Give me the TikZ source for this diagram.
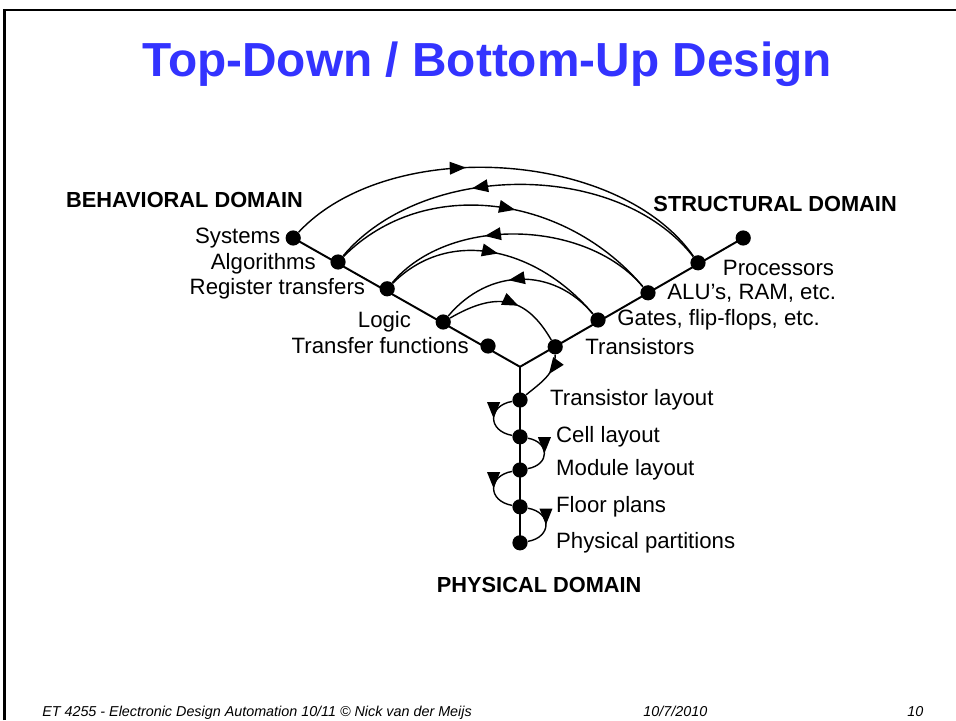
\documentclass[tikz,border=0pt]{standalone}
\usepackage{fontspec}
\setmainfont{Liberation Sans}
\usetikzlibrary{arrows.meta,decorations.markings,positioning}
\definecolor{titleblue}{RGB}{51,51,255}

\tikzset{
  dot/.style={circle,fill=black,inner sep=0pt,minimum size=0.38cm},
  lbl/.style={inner sep=0pt,font=\fontsize{15.8}{18}\selectfont},
  domainlbl/.style={inner sep=0pt,font=\fontsize{15.5}{18}\selectfont\bfseries},
  foot/.style={inner sep=0pt,anchor=base west,font=\fontsize{10.2}{12}\selectfont\itshape},
  flow/.style={line width=1pt,postaction={decorate},
    decoration={markings,mark=at position #1 with {\arrow{Triangle[length=11.5pt,width=9pt]}}}},
  flow/.default=0.5
}

\begin{document}
\begin{tikzpicture}
  \useasboundingbox (0,0) rectangle (23.9,18);
  \draw[line width=2pt] (0.12,0) -- (0.12,17.75) -- (23.9,17.75);    % slide frame

  \node[anchor=base,inner sep=0pt,text=titleblue,
        font=\fontsize{34}{40}\selectfont\bfseries] (title) at (12.18,16.08)
        {Top-Down / Bottom-Up Design};

  \coordinate (vtx) at (13.0,8.83);                    % where the three axes meet

  \node[dot] (sys)   at (7.33,12.05) {};               % behavioral axis
  \node[dot] (alg)   at (8.45,11.45) {};
  \node[dot] (rt)    at (9.68,10.78) {};
  \node[dot] (logic) at (11.08,9.95) {};
  \node[dot] (tf)    at (12.2,9.35) {};

  \node[dot] (trans) at (13.88,9.33) {};               % structural axis
  \node[dot] (gates) at (14.95,10.0) {};
  \node[dot] (alu)   at (16.2,10.68) {};
  \node[dot] (proc)  at (17.45,11.43) {};
  \node[dot] (top)   at (18.58,12.05) {};

  \node[dot] (tl)    at (13.0,8.0) {};                 % physical axis
  \node[dot] (cl)    at (13.0,7.08) {};
  \node[dot] (ml)    at (13.0,6.25) {};
  \node[dot] (fp)    at (13.0,5.33) {};
  \node[dot] (pp)    at (13.0,4.43) {};

  \draw[line width=1.4pt] (sys.center) -- (vtx) -- (top.center);
  \draw[line width=1.4pt] (vtx) -- (pp.center);

  % labels
  \node[lbl, left=0.12 of sys] (sysT) {Systems};
  \node[lbl, left=0.35 of alg, yshift=-0.05cm] (algT) {Algorithms};
  \node[lbl, left=0.35 of rt] (rtT) {Register transfers};
  \node[lbl, left=0.6 of logic] (logicT) {Logic};
  \node[lbl, left=0.28 of tf] (tfT) {Transfer functions};

  \node[lbl, right=0.55 of trans] (transT) {Transistors};
  \node[lbl, right=0.28 of gates] (gatesT) {Gates, flip-flops, etc.};
  \node[lbl, right=0.28 of alu] (aluT) {ALU's, RAM, etc.};
  \node[lbl, right=0.42 of proc, yshift=-0.12cm] (procT) {Processors};

  \node[lbl, right=0.55 of tl] (tlT) {Transistor layout};
  \node[lbl, right=0.7 of cl] (clT) {Cell layout};
  \node[lbl, right=0.7 of ml] (mlT) {Module layout};
  \node[lbl, right=0.7 of fp] (fpT) {Floor plans};
  \node[lbl, right=0.7 of pp] (ppT) {Physical partitions};

  \node[domainlbl, anchor=east] (behav) at (7.58,13.0) {BEHAVIORAL DOMAIN};
  \node[domainlbl, anchor=west] (struct) at (16.33,12.9) {STRUCTURAL DOMAIN};
  \node[domainlbl] (phys) at (13.48,3.38) {PHYSICAL DOMAIN};

  % arcs between behavioral and structural
  \draw[flow=0.42] (sys) to[out=47,in=125,looseness=0.85] (proc);
  \draw[flow=0.62] (proc) to[out=128,in=50,looseness=0.9] (alg);
  \draw[flow=0.55] (alg) to[out=45,in=130] (alu);
  \draw[flow=0.62] (alu) to[out=130,in=50,looseness=0.9] (rt);
  \draw[flow=0.5] (rt) to[out=45,in=130,looseness=1.05] (gates);
  \draw[flow=0.57] (gates) to[out=130,in=50,looseness=1.1] (logic);
  \draw[flow=0.6] (logic) to[out=30,in=120,looseness=1.29] (trans);

  % down the physical axis
  \draw[flow=0.4] (trans) to[out=-90,in=40] (tl);
  \draw[flow] (tl) to[out=190,in=170,looseness=1.9] (cl);
  \draw[flow] (cl) to[out=-10,in=10,looseness=1.9] (ml);
  \draw[flow] (ml) to[out=190,in=170,looseness=1.9] (fp);
  \draw[flow] (fp) to[out=-10,in=10,looseness=1.9] (pp);

  % footer
  \node[foot] (course) at (1.05,0.1) {ET 4255 - Electronic Design Automation 10/11 © Nick van der Meijs};
  \node[foot] (date) at (16.08,0.1) {10/7/2010};
  \node[foot] (page) at (22.68,0.1) {10};
\end{tikzpicture}
\end{document}
